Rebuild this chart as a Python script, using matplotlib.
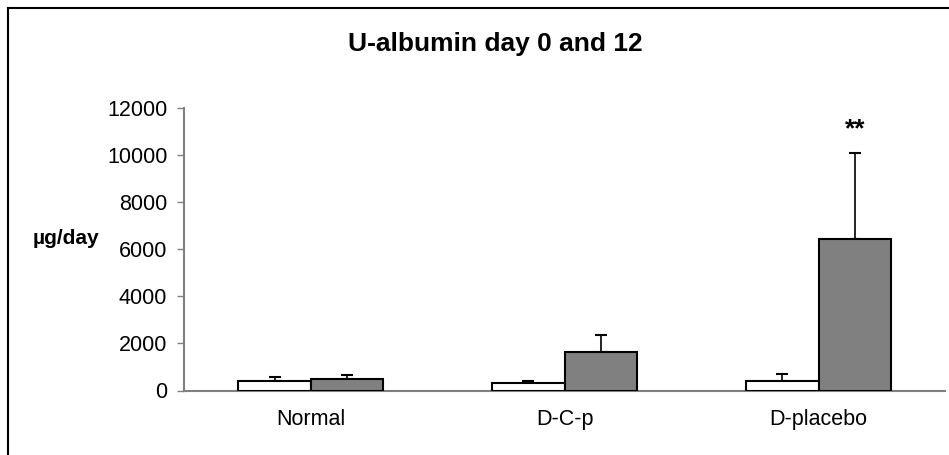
import matplotlib
matplotlib.use("Agg")
import matplotlib.pyplot as plt
import numpy as np
from matplotlib.lines import Line2D

plt.rcParams['font.family'] = ['Liberation Sans', 'DejaVu Sans']

categories = ["Normal", "D-C-p", "D-placebo"]
day0 = [385, 335, 425]
day0_err = [185, 50, 270]
day12 = [490, 1650, 6450]
day12_err = [180, 720, 3650]
yticks = [0, 2000, 4000, 6000, 8000, 10000, 12000]
title = "U-albumin day 0 and 12"
ylabel = "µg/day"
sig_label = "**"

W, H = 949, 455
fig = plt.figure(figsize=(W / 100, H / 100), dpi=100)
ax = fig.add_axes([184 / W, 1 - 390.5 / H, (945.5 - 184) / W, (390.5 - 108.3) / H])

x = np.arange(len(categories))
w = 1 / 3.5
ax.bar(x - w / 2, day0, width=w, color="white", edgecolor="black", linewidth=1.5, zorder=3)
ax.bar(x + w / 2, day12, width=w, color="#808080", edgecolor="black", linewidth=1.5, zorder=3)
ax.errorbar(x - w / 2, day0, yerr=[np.zeros(3), day0_err], fmt="none", ecolor="black",
            elinewidth=1.2, capsize=4.5, capthick=1.5, zorder=2)
ax.errorbar(x + w / 2, day12, yerr=[np.zeros(3), day12_err], fmt="none", ecolor="black",
            elinewidth=1.2, capsize=4.5, capthick=1.5, zorder=2)

ax.text(x[2] + w / 2, day12[2] + day12_err[2] + 1000, sig_label, ha="center", va="center",
        fontsize=19, fontweight="bold")

ax.set_xlim(-0.5, len(categories) - 0.5)
ax.set_ylim(0, 12000)
ax.set_yticks(yticks)
ax.set_yticklabels([str(v) for v in yticks], fontsize=15.5)
ax.set_xticks(x)
ax.set_xticklabels(categories, fontsize=15.5)
ax.tick_params(axis="x", length=0, pad=13)
ax.tick_params(axis="y", length=5, width=1, color="#808080", pad=7)
for s in ["top", "right"]:
    ax.spines[s].set_visible(False)
for s in ["left", "bottom"]:
    ax.spines[s].set_color("#808080")
    ax.spines[s].set_linewidth(1.5)
    ax.spines[s].set_zorder(1)

fig.text(495 / W, 1 - 44 / H, title, ha="center", va="center",
         fontsize=19, fontweight="bold")
fig.text(33 / W, 1 - 238 / H, ylabel, ha="left", va="center", fontsize=15, fontweight="bold")

# figure frame (left and top edges)
fig.add_artist(Line2D([7.5 / W, 7.5 / W], [0, 1 - 8 / H], color="black", linewidth=1.5,
                      transform=fig.transFigure))
fig.add_artist(Line2D([7.5 / W, 1], [1 - 8 / H, 1 - 8 / H], color="black", linewidth=1.5,
                      transform=fig.transFigure))

fig.savefig("out.png", dpi=100)
